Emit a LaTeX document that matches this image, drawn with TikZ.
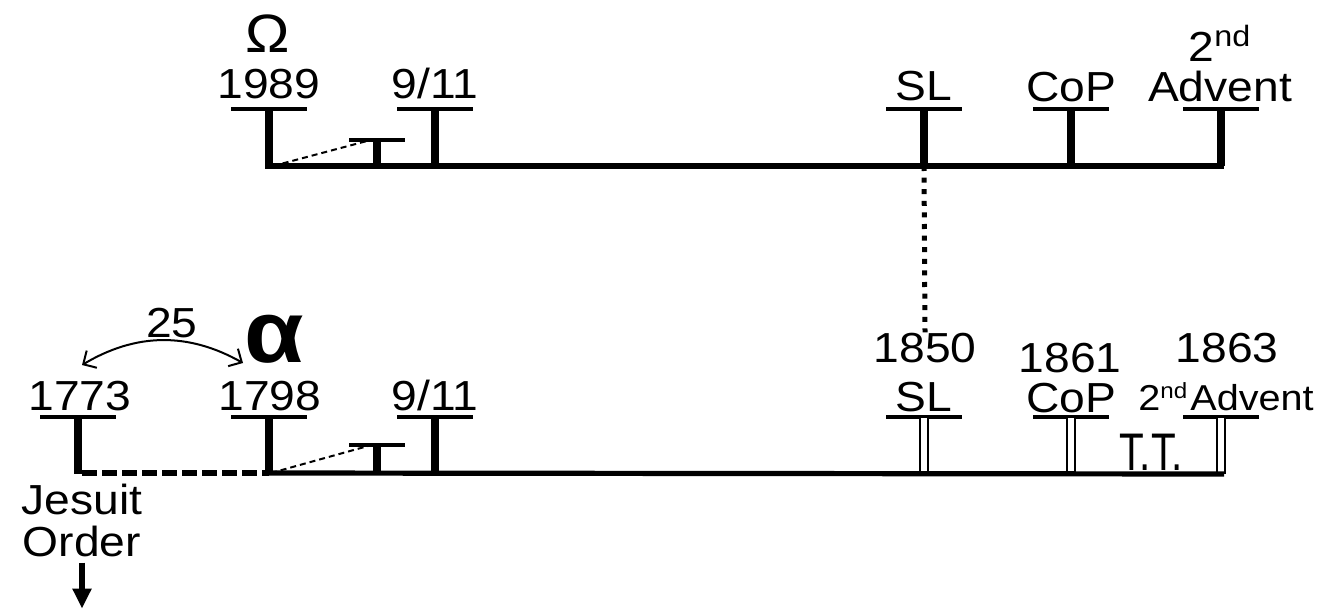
\documentclass[tikz,border=0pt]{standalone}
\usepackage{fontspec}
\setmainfont{Liberation Sans}[FakeStretch=1.1]
\usetikzlibrary{arrows.meta}

\begin{document}
\begin{tikzpicture}[
    x=0.5pt, y=-0.5pt,
    lbl/.style={font=\fontsize{21}{21}\selectfont, inner sep=0pt, anchor=base},
    bar/.style={line width=2.2pt},
    stem/.style={line width=4pt},
    dstem/.style={double, line width=1pt, double distance=2.6pt},
    axis/.style={line width=2.6pt},
    thindash/.style={line width=1pt, dash pattern=on 3pt off 2pt},
    tee/.pic={\draw[bar] (-38,0) -- (38,0); \draw[stem] (0,0) -- (0,57);},
    shorttee/.pic={\draw[bar] (-28,0) -- (28,0); \draw[stem] (0,0) -- (0,26);},
    dbltee/.pic={\draw[bar] (-38,0) -- (38,0); \draw[dstem] (0,1) -- (0,57);},
]
\useasboundingbox (0,0) rectangle (1326,610);

% upper line
\coordinate (up1989) at (269,166);
\coordinate (upmid) at (367,141);
\coordinate (upSL) at (924,166);
\coordinate (upAdv) at (1221,166);
\pic at (269,109) {tee};
\pic at (377,140) {shorttee};
\pic at (435,109) {tee};
\pic at (924,109) {tee};
\pic at (1071,109) {tee};
\pic at (1221,109) {tee};
\draw[axis] ([xshift=-2pt]up1989) -- ([xshift=1.5pt]upAdv);
\draw[thindash] ([xshift=2pt]up1989) -- (upmid);

\node[lbl, font=\fontsize{27}{27}\selectfont] (omega) at (268,53) {Ω};
\node[lbl] (u1989) at (269,98) {1989};
\node[lbl] (u911) at (435,98) {9/11};
\node[lbl] (uSL) at (924,101) {SL};
\node[lbl] (uCoP) at (1071,102) {CoP};
\node[lbl] (u2nd) at (1220,62) {2\textsuperscript{nd}};
\node[lbl] (uAdv) at (1220,102) {Advent};

% lower line
\coordinate (lo1773) at (78,473);
\coordinate (lo1798) at (269,473);
\coordinate (lomid) at (368,446);
\coordinate (loAdv) at (1221,474);
\pic at (78,417) {tee};
\pic at (269,417) {tee};
\pic at (377,445) {shorttee};
\pic at (435,417) {tee};
\pic at (924,417) {dbltee};
\pic at (1071,417) {dbltee};
\pic at (1221,417) {dbltee};
\draw[axis] ([xshift=-2pt]lo1798) -- ([xshift=1.5pt]loAdv);
\draw[axis, dash pattern=on 7.5pt off 2.5pt] ([xshift=2pt]lo1773) -- (lo1798);
\draw[thindash] ([xshift=1pt]lo1798) -- (lomid);

\node[lbl] (l1773) at (80,410) {1773};
\node[lbl] (l1798) at (270,410) {1798};
\node[lbl] (l911) at (435,410) {9/11};
\node[lbl, font=\fontsize{44}{44}\selectfont\bfseries] (alpha) at (274,362) {α};
\node[lbl] (l25) at (172,337) {25};
\node[lbl] (l1850) at (925,362) {1850};
\node[lbl] (lSL) at (924,411) {SL};
\node[lbl] (l1861) at (1070,372) {1861};
\node[lbl] (lCoP) at (1071,412) {CoP};
\node[lbl] (l1863) at (1227,362) {1863};
\node[lbl, font=\fontsize{18}{18}\selectfont] (lAdv) at (1226,410)
    {2\raisebox{6pt}{\fontsize{11}{11}\selectfont nd}\hspace{1.5pt}Advent};
\node[lbl, font=\fontsize{23}{23}\selectfont] (ltt) at (1151,470) {\scalebox{0.8}[1.15]{T.T.}};
\node[lbl, anchor=north, align=center] (jesuit) at (82,484) {Jesuit\\Order};

% connectors
\draw[line width=2.5pt, dash pattern=on 2.5pt off 3.3pt] (upSL) -- (l1850.north);
\draw[line width=1pt, {Straight Barb[length=5pt,width=10pt]}-{Straight Barb[length=5pt,width=10pt]}]
    (82,365) coordinate (arcL) to[bend left=30] (243,363) coordinate (arcR);
\draw[line width=3pt, -{Triangle[length=10pt,width=9pt]}]
    ([yshift=-2.5pt]jesuit.south) -- ++(0,46);
\end{tikzpicture}
\end{document}
